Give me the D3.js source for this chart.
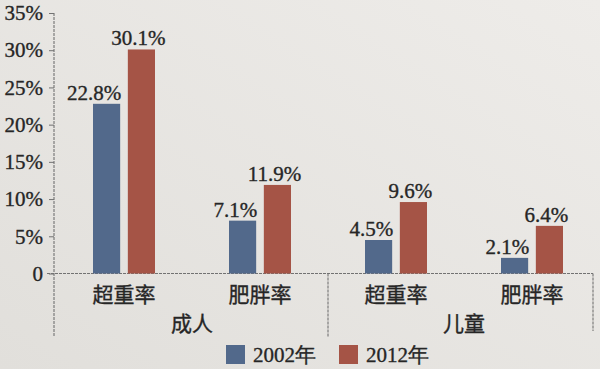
<!DOCTYPE html>
<meta charset="utf-8">
<head>
<script src="https://cdn.jsdelivr.net/npm/d3@7"></script>
<style>
body { margin: 0; background: #e6e4e0; }
text { fill: #262626; stroke: #262626; stroke-width: 0.35px; }
.num { font: 21px "Liberation Serif", "DejaVu Serif", serif; }
.cjk { font: 21px "Noto Sans CJK SC", sans-serif; }
.frame { stroke: #727272; stroke-width: 1.1; stroke-dasharray: 3,1; fill: none; }
</style>
</head>
<body>
<script>

// data
var groups = ["成人", "儿童"];
var categories = ["成人超重率", "成人肥胖率", "儿童超重率", "儿童肥胖率"];
var catLabels = ["超重率", "肥胖率", "超重率", "肥胖率"];
var years = ["2002年", "2012年"];
var values2002 = [22.8, 7.1, 4.5, 2.1];
var values2012 = [30.1, 11.9, 9.6, 6.4];
var yTicks = [0, 5, 10, 15, 20, 25, 30, 35];
var colors = ["#52698b", "#a55446"];

var width = 600, height = 369;

var svg = d3.select("body").append("svg")
    .attr("width", width)
    .attr("height", height);

// background shading, lighter at the top right like the photo
var grad = svg.append("defs").append("linearGradient")
    .attr("id", "bg").attr("x1", "0").attr("y1", "1").attr("x2", "1").attr("y2", "0");
grad.append("stop").attr("offset", "0").attr("stop-color", "#e1dfdb");
grad.append("stop").attr("offset", "1").attr("stop-color", "#eeece9");
svg.append("rect").attr("width", width).attr("height", height).attr("fill", "url(#bg)");

var x = d3.scaleBand().domain(categories).range([56, 600]);
var inner = d3.scaleBand().domain(years).range([-31, 31]).paddingInner(0.22);
var y = d3.scaleLinear().domain([0, 35]).range([273.5, 13]);

var axisX = 54, frameRight = 593, frameBottom = 337;

// y axis
var yAxis = svg.append("g")
    .attr("transform", "translate(" + axisX + ",0)")
    .call(d3.axisLeft(y).tickValues(yTicks).tickSize(5).tickPadding(6)
      .tickFormat(function(d) { return d === 0 ? "0" : d + "%"; }));
yAxis.select(".domain").remove();
yAxis.selectAll("line").attr("stroke", "#727272");
yAxis.selectAll("text").attr("class", "num").attr("fill", null).attr("font-family", null).attr("font-size", null);

// frame lines
svg.append("line").attr("class", "frame")
    .attr("x1", axisX).attr("x2", axisX).attr("y1", y(35)).attr("y2", frameBottom);
svg.append("line").attr("class", "frame")
    .attr("x1", 47).attr("x2", frameRight).attr("y1", y(0)).attr("y2", y(0));
var mid = x(categories[2]);
svg.append("line").attr("class", "frame")
    .attr("x1", mid).attr("x2", mid).attr("y1", y(0)).attr("y2", frameBottom);
svg.append("line").attr("class", "frame")
    .attr("x1", frameRight).attr("x2", frameRight).attr("y1", y(0)).attr("y2", frameBottom - 6);

// bars
var series = [values2002, values2012];
series.forEach(function(vals, s) {
  var g = svg.append("g");
  g.selectAll("rect").data(vals).enter().append("rect")
      .attr("x", function(d, i) { return x(categories[i]) + x.bandwidth() / 2 + inner(years[s]); })
      .attr("y", function(d) { return y(d); })
      .attr("width", inner.bandwidth())
      .attr("height", function(d) { return y(0) - y(d); })
      .attr("fill", colors[s]);

  g.selectAll("text").data(vals).enter().append("text")
      .attr("class", "num")
      .attr("x", function(d, i) {
        var x0 = x(categories[i]) + x.bandwidth() / 2 + inner(years[s]);
        return s === 0 ? x0 + inner.bandwidth() + 1 : x0 + inner.bandwidth() / 2 - 3;
      })
      .attr("y", function(d) { return y(d) - 4; })
      .attr("text-anchor", s === 0 ? "end" : "middle")
      .text(function(d) { return d + "%"; });
});

// category labels
svg.append("g").selectAll("text").data(catLabels).enter().append("text")
    .attr("class", "cjk")
    .attr("x", function(d, i) { return x(categories[i]) + x.bandwidth() / 2; })
    .attr("y", 302)
    .attr("text-anchor", "middle")
    .text(function(d) { return d; });

// group labels
svg.append("g").selectAll("text").data(groups).enter().append("text")
    .attr("class", "cjk")
    .attr("x", function(d, i) { return x(categories[i * 2]) + x.bandwidth(); })
    .attr("y", 331)
    .attr("text-anchor", "middle")
    .text(function(d) { return d; });

// legend
var legend = svg.append("g").selectAll("g").data(years).enter().append("g")
    .attr("transform", function(d, i) { return "translate(" + (226 + i * 113) + ",345)"; });
legend.append("rect").attr("width", 19).attr("height", 19)
    .attr("fill", function(d, i) { return colors[i]; });
legend.append("text").attr("class", "num")
    .attr("x", 27).attr("y", 17)
    .text(function(d) { return d; });

</script>
</body>
